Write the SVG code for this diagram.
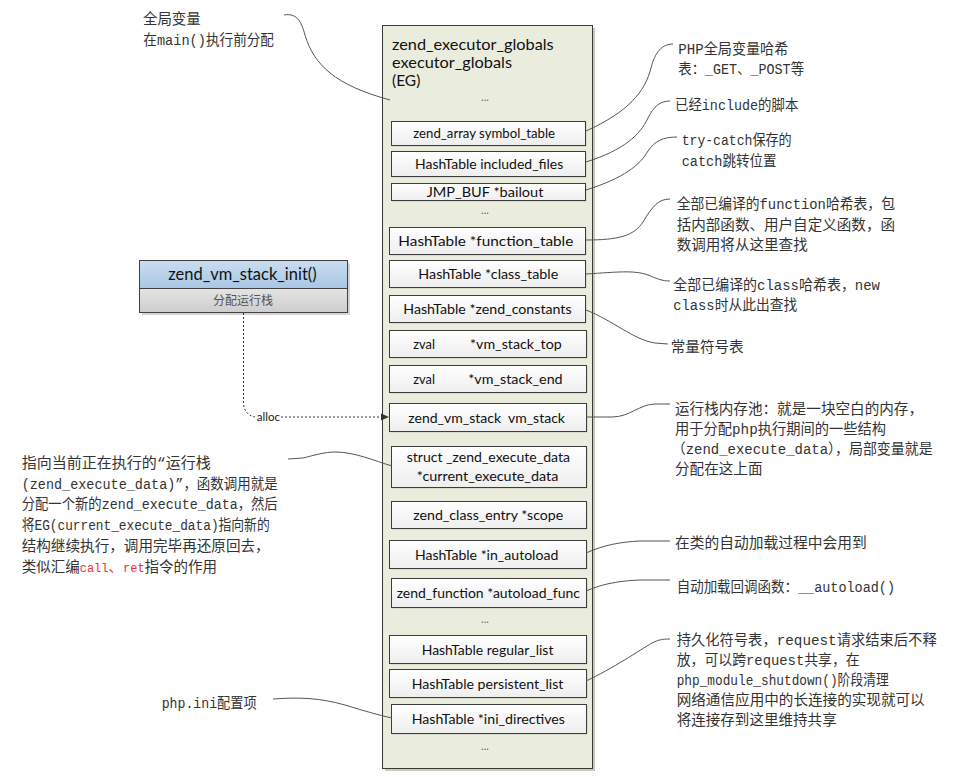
<svg xmlns="http://www.w3.org/2000/svg" width="960" height="777" viewBox="0 0 960 777">
<defs>
<linearGradient id="rowGrad" x1="0" y1="0" x2="0" y2="1">
<stop offset="0" stop-color="#ffffff"/>
<stop offset="1" stop-color="#eeeeee"/>
</linearGradient>
<linearGradient id="blueGrad" x1="0" y1="0" x2="0" y2="1">
<stop offset="0" stop-color="#c9ddf0"/>
<stop offset="1" stop-color="#a8c7e4"/>
</linearGradient>
<linearGradient id="grayGrad" x1="0" y1="0" x2="0" y2="1">
<stop offset="0" stop-color="#e4e4e4"/>
<stop offset="1" stop-color="#cdcdcd"/>
</linearGradient>
<marker id="arrow" markerWidth="8" markerHeight="8" refX="8" refY="4" orient="auto" markerUnits="userSpaceOnUse">
<path d="M0,0.5 L8,4 L0,7.5 Z" fill="#333"/>
</marker>
</defs>
<style>
.main{fill:#eaedde;stroke:#3a3a3a;stroke-width:1}
.shadow{fill:#c8cabb}
.row{fill:url(#rowGrad);stroke:#3c3c3c;stroke-width:1}
.rowt{font-family:Lato,"Open Sans","Liberation Sans",sans-serif;font-size:14px;fill:#111}
.head{font-family:Lato,"Open Sans","Liberation Sans",sans-serif;font-size:16px;fill:#111}
.dots{font-family:Lato,"Liberation Sans",sans-serif;font-size:11px;fill:#666;text-anchor:middle}
.ann{font-family:"Liberation Mono","Noto Sans CJK SC",monospace;font-size:14.5px;fill:#333}
.red{fill:#f03030}
.lat{font-size:12px}
.lead{fill:none;stroke:#555;stroke-width:1}
.dash{fill:none;stroke:#333;stroke-width:1;stroke-dasharray:2,2}
</style>

<!-- main structure -->
<g id="executor_globals">
<rect class="shadow" x="385" y="28" width="210" height="743"/>
<rect class="main" x="382.5" y="25.5" width="210" height="743"/>
<text class="head" x="392" y="50" textLength="161.7" lengthAdjust="spacingAndGlyphs">zend_executor_globals</text>
<text class="head" x="392" y="68" textLength="120" lengthAdjust="spacingAndGlyphs">executor_globals</text>
<text class="head" x="392" y="86" textLength="28.3" lengthAdjust="spacingAndGlyphs">(EG)</text>
<text class="dots" x="485" y="101">...</text>
<text class="dots" x="485" y="214">...</text>
<text class="dots" x="485" y="623">...</text>
<text class="dots" x="485" y="750">...</text>
</g>

<g id="row_symbol_table">
<rect class="shadow" x="392.5" y="122.5" width="194" height="24"/>
<rect class="row" x="391.5" y="121.5" width="194" height="24"/>
<text class="rowt" x="413.3" y="138" textLength="141.7" lengthAdjust="spacingAndGlyphs">zend_array symbol_table</text>
</g>
<g id="row_included_files">
<rect class="shadow" x="392.5" y="152.5" width="194" height="25"/>
<rect class="row" x="391.5" y="151.5" width="194" height="25"/>
<text class="rowt" x="415" y="168.5" textLength="148.3" lengthAdjust="spacingAndGlyphs">HashTable included_files</text>
</g>
<g id="row_bailout">
<rect class="shadow" x="392.5" y="184.5" width="194" height="17"/>
<rect class="row" x="391.5" y="183.5" width="194" height="17"/>
<text class="rowt" x="426.7" y="197" textLength="116.7" lengthAdjust="spacingAndGlyphs">JMP_BUF *bailout</text>
</g>
<g id="row_function_table">
<rect class="shadow" x="390.5" y="228.5" width="196" height="27"/>
<rect class="row" x="389.5" y="227.5" width="196" height="27"/>
<text class="rowt" x="398.3" y="245.5" textLength="175" lengthAdjust="spacingAndGlyphs">HashTable *function_table</text>
</g>
<g id="row_class_table">
<rect class="shadow" x="390.5" y="261.5" width="196" height="27"/>
<rect class="row" x="389.5" y="260.5" width="196" height="27"/>
<text class="rowt" x="418.3" y="279" textLength="140" lengthAdjust="spacingAndGlyphs">HashTable *class_table</text>
</g>
<g id="row_zend_constants">
<rect class="shadow" x="390.5" y="296.5" width="196" height="27"/>
<rect class="row" x="389.5" y="295.5" width="196" height="27"/>
<text class="rowt" x="403.3" y="314" textLength="168.3" lengthAdjust="spacingAndGlyphs">HashTable *zend_constants</text>
</g>
<g id="row_vm_stack_top">
<rect class="shadow" x="390.5" y="331.5" width="197" height="27"/>
<rect class="row" x="389.5" y="330.5" width="197" height="27"/>
<text class="rowt" x="413.3" y="349" textLength="21.7" lengthAdjust="spacingAndGlyphs">zval</text>
<text class="rowt" x="470" y="349" textLength="91.7" lengthAdjust="spacingAndGlyphs">*vm_stack_top</text>
</g>
<g id="row_vm_stack_end">
<rect class="shadow" x="390.5" y="366.5" width="197" height="27"/>
<rect class="row" x="389.5" y="365.5" width="197" height="27"/>
<text class="rowt" x="413.3" y="384" textLength="21.7" lengthAdjust="spacingAndGlyphs">zval</text>
<text class="rowt" x="468.3" y="384" textLength="94.3" lengthAdjust="spacingAndGlyphs">*vm_stack_end</text>
</g>
<g id="row_vm_stack">
<rect class="shadow" x="390.5" y="404.5" width="197" height="28"/>
<rect class="row" x="389.5" y="403.5" width="197" height="28"/>
<text class="rowt" x="408.3" y="422.5" textLength="156.7" lengthAdjust="spacingAndGlyphs">zend_vm_stack&#160; vm_stack</text>
</g>
<g id="row_current_execute_data">
<rect class="shadow" x="392.5" y="447.5" width="195" height="41"/>
<rect class="row" x="391.5" y="446.5" width="195" height="41"/>
<text class="rowt" x="406.7" y="462" textLength="163.3" lengthAdjust="spacingAndGlyphs">struct _zend_execute_data</text>
<text class="rowt" x="416.7" y="480.5" textLength="141.7" lengthAdjust="spacingAndGlyphs">*current_execute_data</text>
</g>
<g id="row_scope">
<rect class="shadow" x="392.5" y="502.5" width="195" height="27"/>
<rect class="row" x="391.5" y="501.5" width="195" height="27"/>
<text class="rowt" x="413.3" y="520" textLength="150" lengthAdjust="spacingAndGlyphs">zend_class_entry *scope</text>
</g>
<g id="row_in_autoload">
<rect class="shadow" x="390.5" y="541.5" width="197" height="28"/>
<rect class="row" x="389.5" y="540.5" width="197" height="28"/>
<text class="rowt" x="415" y="559.5" textLength="143.3" lengthAdjust="spacingAndGlyphs">HashTable *in_autoload</text>
</g>
<g id="row_autoload_func">
<rect class="shadow" x="392.5" y="579.5" width="195" height="29"/>
<rect class="row" x="391.5" y="578.5" width="195" height="29"/>
<text class="rowt" x="396.7" y="597.5" textLength="183.3" lengthAdjust="spacingAndGlyphs">zend_function *autoload_func</text>
</g>
<g id="row_regular_list">
<rect class="shadow" x="390.5" y="636.5" width="197" height="28"/>
<rect class="row" x="389.5" y="635.5" width="197" height="28"/>
<text class="rowt" x="421.7" y="654.5" textLength="131.7" lengthAdjust="spacingAndGlyphs">HashTable regular_list</text>
</g>
<g id="row_persistent_list">
<rect class="shadow" x="390.5" y="670.5" width="197" height="28"/>
<rect class="row" x="389.5" y="669.5" width="197" height="28"/>
<text class="rowt" x="411.7" y="688.5" textLength="151.7" lengthAdjust="spacingAndGlyphs">HashTable persistent_list</text>
</g>
<g id="row_ini_directives">
<rect class="shadow" x="392.5" y="705.5" width="195" height="29"/>
<rect class="row" x="391.5" y="704.5" width="195" height="29"/>
<text class="rowt" x="411.7" y="723.5" textLength="153.3" lengthAdjust="spacingAndGlyphs">HashTable *ini_directives</text>
</g>

<!-- zend_vm_stack_init -->
<g id="zend_vm_stack_init">
<rect x="142" y="263.5" width="208" height="51.5" fill="#d5d5d5"/>
<rect x="139.5" y="260.5" width="208" height="28" fill="url(#blueGrad)" stroke="#404040" stroke-width="1"/>
<rect x="139.5" y="288.5" width="208" height="24" fill="url(#grayGrad)" stroke="#404040" stroke-width="1"/>
<text x="168.3" y="280" font-family="Lato,'Open Sans','Liberation Sans',sans-serif" font-size="17" fill="#111" textLength="148.3" lengthAdjust="spacingAndGlyphs">zend_vm_stack_init()</text>
<text x="243" y="304.5" text-anchor="middle" font-family="'Noto Sans CJK SC',sans-serif" font-size="12" fill="#555">分配运行栈</text>
</g>

<!-- annotations -->
<g id="annotations">
<text class="ann" x="143" y="23.5" textLength="57.7" lengthAdjust="spacingAndGlyphs">全局变量</text>
<text class="ann" x="143.3" y="44.5" textLength="130.7" lengthAdjust="spacingAndGlyphs">在main()执行前分配</text>

<text class="ann" x="678.3" y="53.5" textLength="110" lengthAdjust="spacingAndGlyphs">PHP全局变量哈希</text>
<text class="ann" x="678.3" y="73.5" textLength="125.7" lengthAdjust="spacingAndGlyphs">表：_GET、_POST等</text>

<text class="ann" x="675" y="110" textLength="123.3" lengthAdjust="spacingAndGlyphs">已经include的脚本</text>

<text class="ann" x="681.7" y="145" textLength="110" lengthAdjust="spacingAndGlyphs">try-catch保存的</text>
<text class="ann" x="681.7" y="166" textLength="95" lengthAdjust="spacingAndGlyphs">catch跳转位置</text>

<text class="ann" x="676.7" y="208.5" textLength="218.3" lengthAdjust="spacingAndGlyphs">全部已编译的function哈希表，包</text>
<text class="ann" x="676.7" y="230" textLength="218.3" lengthAdjust="spacingAndGlyphs">括内部函数、用户自定义函数，函</text>
<text class="ann" x="676.7" y="250" textLength="131" lengthAdjust="spacingAndGlyphs">数调用将从这里查找</text>

<text class="ann" x="673.3" y="289.5" textLength="206.7" lengthAdjust="spacingAndGlyphs">全部已编译的class哈希表，new</text>
<text class="ann" x="673.3" y="310" textLength="124" lengthAdjust="spacingAndGlyphs">class时从此出查找</text>

<text class="ann" x="670.7" y="352" textLength="73" lengthAdjust="spacingAndGlyphs">常量符号表</text>

<text class="ann" x="675" y="413.5" textLength="248" lengthAdjust="spacingAndGlyphs">运行栈内存池：就是一块空白的内存，</text>
<text class="ann" x="675" y="433.5" textLength="211" lengthAdjust="spacingAndGlyphs">用于分配php执行期间的一些结构</text>
<text class="ann" x="671.7" y="453.5" textLength="261" lengthAdjust="spacingAndGlyphs">（zend_execute_data），局部变量就是</text>
<text class="ann" x="675" y="473.5" textLength="87.5" lengthAdjust="spacingAndGlyphs">分配在这上面</text>

<text class="ann" x="675" y="548" textLength="191.7" lengthAdjust="spacingAndGlyphs">在类的自动加载过程中会用到</text>

<text class="ann" x="676.7" y="592" textLength="218.3" lengthAdjust="spacingAndGlyphs">自动加载回调函数：__autoload()</text>

<text class="ann" x="676.7" y="645" textLength="260" lengthAdjust="spacingAndGlyphs">持久化符号表，request请求结束后不释</text>
<text class="ann" x="676.7" y="665" textLength="183" lengthAdjust="spacingAndGlyphs">放，可以跨request共享，在</text>
<text class="ann" x="676.7" y="685" textLength="212" lengthAdjust="spacingAndGlyphs">php_module_shutdown()阶段清理</text>
<text class="ann" x="676.7" y="705" textLength="248" lengthAdjust="spacingAndGlyphs">网络通信应用中的长连接的实现就可以</text>
<text class="ann" x="676.7" y="725" textLength="160" lengthAdjust="spacingAndGlyphs">将连接存到这里维持共享</text>

<text class="ann" x="161.7" y="708" textLength="95" lengthAdjust="spacingAndGlyphs">php.ini配置项</text>

<text class="ann" x="21.7" y="467.5" textLength="189" lengthAdjust="spacingAndGlyphs">指向当前正在执行的“运行栈</text>
<text class="ann" x="21.7" y="488.5" textLength="256" lengthAdjust="spacingAndGlyphs">(zend_execute_data)”，函数调用就是</text>
<text class="ann" x="21.7" y="509" textLength="256" lengthAdjust="spacingAndGlyphs">分配一个新的zend_execute_data，然后</text>
<text class="ann" x="21.7" y="530" textLength="248" lengthAdjust="spacingAndGlyphs">将EG(current_execute_data)指向新的</text>
<text class="ann" x="21.7" y="551" textLength="248" lengthAdjust="spacingAndGlyphs">结构继续执行，调用完毕再还原回去，</text>
<text class="ann" x="21.7" y="572">类似汇编<tspan class="red lat">call</tspan><tspan class="red">、</tspan><tspan class="red lat">ret</tspan>指令的作用</text>
</g>

<!-- connectors -->
<g id="connectors">
<path class="lead" d="M284,15 C296,13 301,20 305,35 C314,65 335,85 390,100"/>
<path class="lead" d="M586,131 C628,112 645,92 651,68 C655,52 662,44 673,44"/>
<path class="lead" d="M586,162 C624,150 640,135 648,118 C654,106 660,101 670,101"/>
<path class="lead" d="M586,190 C624,178 640,165 648,151 C655,141 663,137 677,137"/>
<path class="lead" d="M586,240 C618,240 634,236 643,222 C652,207 658,199 670,199"/>
<path class="lead" d="M586,274 C618,272 634,270 648,275 C658,279 662,281 670,281"/>
<path class="lead" d="M586,310 C612,320 634,340 655,343 L668,344"/>
<path class="lead" d="M586,417 L612,417 C630,417 640,404 655,404 L670,404"/>
<path class="lead" d="M586,553 C604,545 620,542 640,541 L670,541"/>
<path class="lead" d="M586,591 C600,585 615,581 640,580 L670,580"/>
<path class="lead" d="M586,681 C612,669 640,650 652,643 C658,640 662,639 670,639"/>
<path class="lead" d="M273,699 C300,697 320,698 345,705 C365,711 378,715 392,718"/>
<path class="lead" d="M288,459 L303,458 C315,455 325,452 335,452 C355,452 375,461 392,466"/>
<path class="dash" d="M243.5,313 L243.5,403 C243.5,410 248,416 255,417"/>
<text x="256.7" y="421" font-family="Lato,'Liberation Sans',sans-serif" font-size="12" fill="#222" textLength="23.3" lengthAdjust="spacingAndGlyphs">alloc</text>
<path class="dash" d="M281,417 L389,417" marker-end="url(#arrow)"/>
</g>
</svg>
